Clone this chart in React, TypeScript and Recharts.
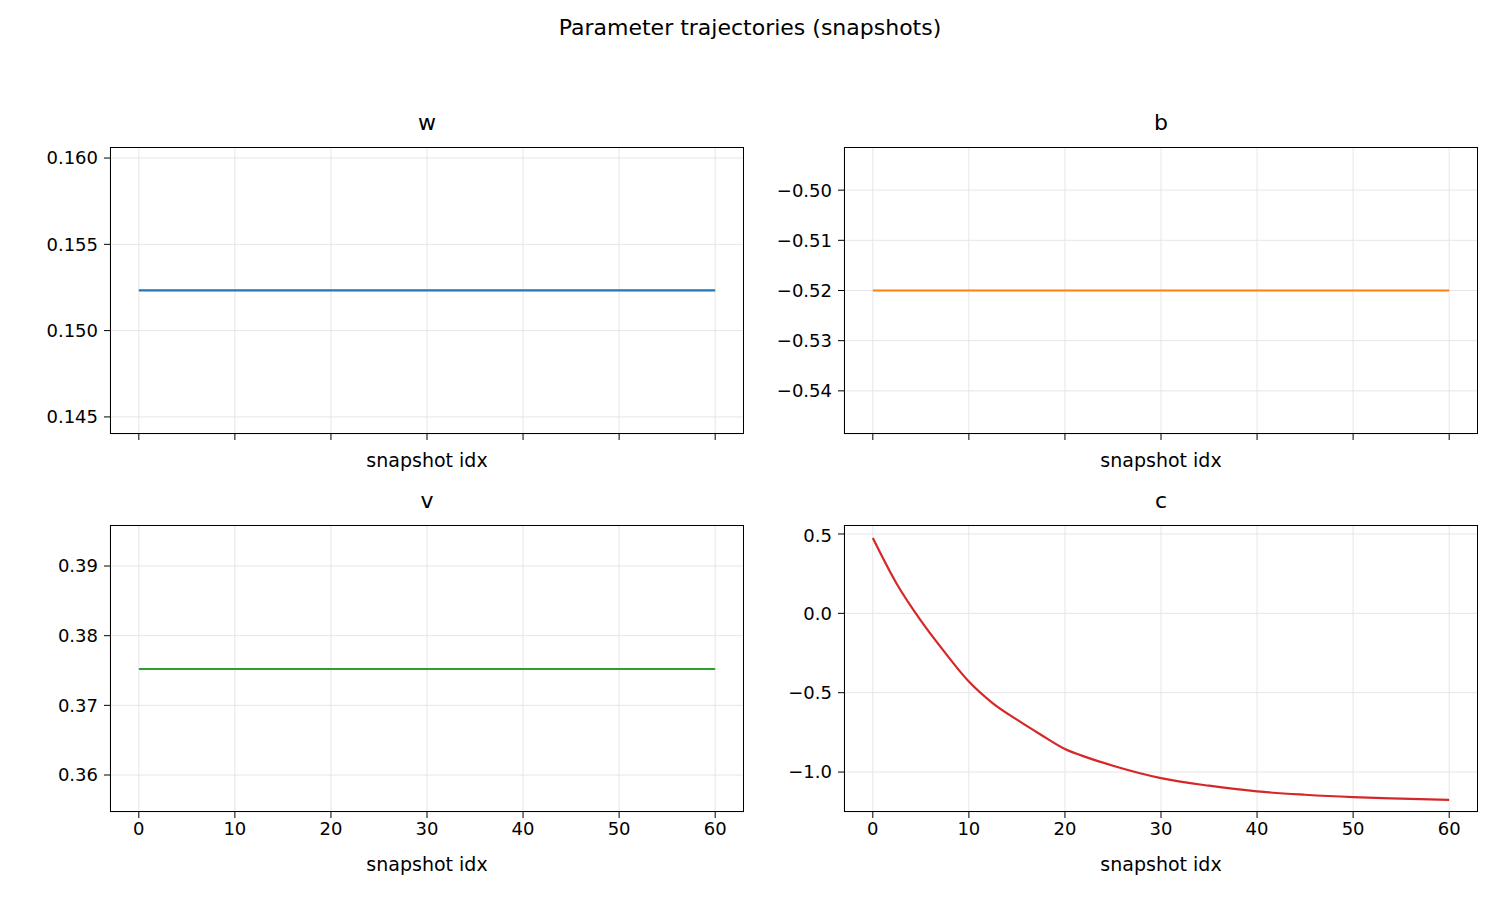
import React from "react";
import { CartesianGrid, Line, LineChart, XAxis, YAxis } from "recharts";

const snapshotIdx = [0, 2.5, 5, 7.5, 10, 12.5, 15, 17.5, 20, 22.5, 25, 30, 35, 40, 45, 50, 55, 60];
const wValues = snapshotIdx.map(() => 0.15233);
const bValues = snapshotIdx.map(() => -0.52);
const vValues = snapshotIdx.map(() => 0.37522);
const cValues = [0.475, 0.185, -0.046, -0.246, -0.43, -0.567, -0.67, -0.765, -0.855, -0.912, -0.96, -1.038, -1.086, -1.122, -1.143, -1.158, -1.168, -1.176];

const xTicks = [0, 10, 20, 30, 40, 50, 60];
const wTicks = [0.145, 0.15, 0.155, 0.16];
const bTicks = [-0.54, -0.53, -0.52, -0.51, -0.5];
const vTicks = [0.36, 0.37, 0.38, 0.39];
const cTicks = [-1.0, -0.5, 0, 0.5];

const font = "'DejaVu Sans', sans-serif";
const fmt = (d: number) => (v: number) => v.toFixed(d).replace("-", "\u2212");

type Panel = {
  title: string;
  values: number[];
  color: string;
  ticks: number[];
  domain: [number, number];
  digits: number;
  left: number;
  top: number;
  showX: boolean;
};

const panels: Panel[] = [
  { title: "w", values: wValues, color: "#1f77b4", ticks: wTicks, domain: [0.14401, 0.16064], digits: 3, left: 110, top: 147, showX: false },
  { title: "b", values: bValues, color: "#ff7f0e", ticks: bTicks, domain: [-0.5486, -0.4914], digits: 2, left: 844, top: 147, showX: false },
  { title: "v", values: vValues, color: "#2ca02c", ticks: vTicks, domain: [0.35469, 0.39589], digits: 2, left: 110, top: 525, showX: true },
  { title: "c", values: cValues, color: "#d62728", ticks: cTicks, domain: [-1.2517, 0.5567], digits: 1, left: 844, top: 525, showX: true },
];

const PW = 634;
const PH = 287;
const YW = 105;

function PanelChart({ p }: { p: Panel }) {
  const data = snapshotIdx.map((x, i) => ({ x, y: p.values[i] }));
  return (
    <>
      <div style={{ position: "absolute", left: p.left, top: p.top - 37, width: PW, textAlign: "center", fontSize: 22 }}>{p.title}</div>
      <div style={{ position: "absolute", left: p.left - YW, top: p.top }}>
        <LineChart width={YW + PW} height={PH + 50} data={data} margin={{ top: 0, right: 0, bottom: 0, left: 0 }}>
          <CartesianGrid stroke="#e6e6e6" strokeWidth={1} />
          <XAxis
            dataKey="x"
            type="number"
            domain={[-3, 63]}
            ticks={xTicks}
            axisLine={false}
            tickLine={{ stroke: "#000" }}
            tickSize={6}
            height={50}
            tick={{ fill: "#000", fontSize: 18, fontFamily: font, dy: 2 }}
            tickFormatter={(v: number) => (p.showX ? String(v) : "")}
            allowDataOverflow
          />
          <YAxis
            type="number"
            domain={p.domain}
            ticks={p.ticks}
            axisLine={false}
            tickLine={{ stroke: "#000" }}
            tickSize={6}
            width={YW}
            tick={{ fill: "#000", fontSize: 18, fontFamily: font, dx: -4 }}
            tickFormatter={fmt(p.digits)}
            allowDataOverflow
          />
          <Line type="monotone" dataKey="y" stroke={p.color} strokeWidth={2.2} dot={false} isAnimationActive={false} />
        </LineChart>
      </div>
      <div style={{ position: "absolute", left: p.left, top: p.top, width: PW - 2, height: PH - 2, border: "1px solid #000", pointerEvents: "none" }} />
      <div style={{ position: "absolute", left: p.left, top: p.top + PH + (p.showX ? 41 : 15), width: PW, textAlign: "center", fontSize: 19 }}>snapshot idx</div>
    </>
  );
}

export default function App() {
  return (
    <div style={{ position: "absolute", left: 0, top: 0, width: 1500, height: 900, background: "#fff", fontFamily: font, color: "#000" }}>
      <div style={{ position: "absolute", left: 0, top: 15, width: 1500, textAlign: "center", fontSize: 22 }}>Parameter trajectories (snapshots)</div>
      {panels.map((p) => (
        <PanelChart key={p.title} p={p} />
      ))}
    </div>
  );
}
